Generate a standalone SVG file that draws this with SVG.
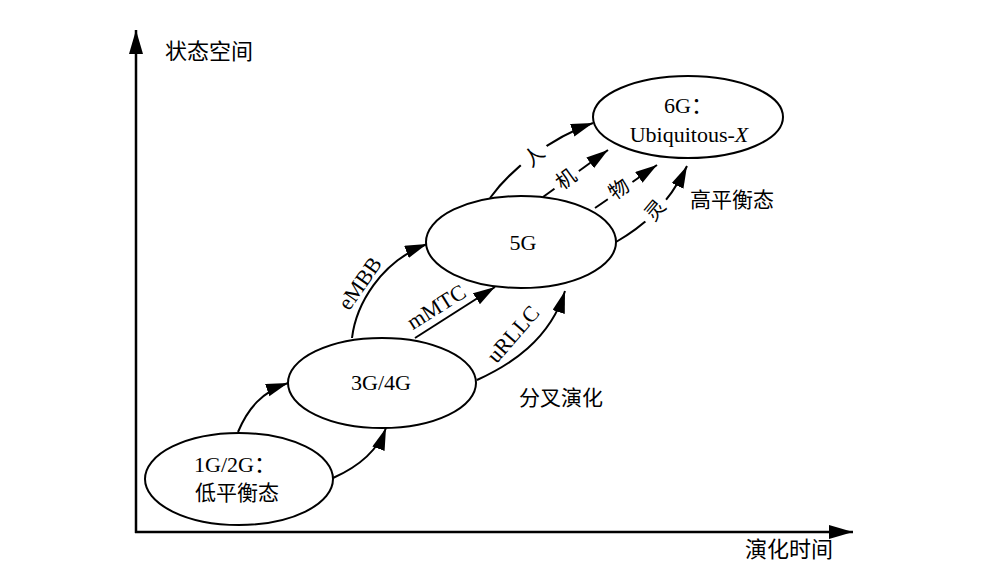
<svg xmlns="http://www.w3.org/2000/svg" width="988" height="580" viewBox="0 0 988 580">
<defs>
<style>
.node{fill:#fff;stroke:#000;stroke-width:2}
.edge{fill:none;stroke:#000;stroke-width:2}
.axis{fill:none;stroke:#000;stroke-width:2.5}
.lat{font-family:"Liberation Serif","Noto Sans CJK SC",serif;font-size:22px;fill:#000}
.cjk{font-family:"Liberation Serif","Noto Sans CJK SC",serif;font-size:21px;fill:#000}
.gap{fill:#fff;stroke:none}
</style>
<marker id="arr" markerUnits="userSpaceOnUse" markerWidth="24" markerHeight="15" refX="22" refY="6.5" orient="auto">
<path d="M0,0 L22,6.5 L0,13 Z" fill="#000"/>
</marker>
<marker id="axarr" markerUnits="userSpaceOnUse" markerWidth="26" markerHeight="16" refX="24" refY="7" orient="auto">
<path d="M0,0 L24,7 L0,14 Z" fill="#000"/>
</marker>
</defs>
<rect width="988" height="580" fill="#fff"/>

<g id="axes">
<path class="axis" d="M136,533 L136,30" marker-end="url(#axarr)"/>
<path class="axis" d="M135,532 L853,532" marker-end="url(#axarr)"/>
<text class="cjk" x="165" y="59" style="font-size:22px">状态空间</text>
<text class="cjk" x="745" y="557" style="font-size:22px">演化时间</text>
</g>

<g id="connectors">
<path class="edge" d="M238,432 C248,408 262,392 288,383" marker-end="url(#arr)"/>
<path class="edge" d="M333,478 C360,466 378,450 386,428" marker-end="url(#arr)"/>
<path class="edge" d="M352,338 C356,305 380,262 427,244" marker-end="url(#arr)"/>
<path class="edge" d="M415,338 L495,287" marker-end="url(#arr)"/>
<path class="edge" d="M477,380 C510,365 550,340 565,291" marker-end="url(#arr)"/>
<path class="edge" d="M490,198 C510,170 550,138 593,123" marker-end="url(#arr)"/>
<path class="edge" d="M543,197 L608,150" marker-end="url(#arr)"/>
<path class="edge" d="M595,208 C610,198 635,180 657,165" marker-end="url(#arr)"/>
<path class="edge" d="M616,242 C640,228 667,208 687,166" marker-end="url(#arr)"/>
<g id="label-eMBB" transform="translate(361,284) rotate(-55)"><text class="lat" x="0" y="6" text-anchor="middle">eMBB</text></g>
<g id="label-mMTC" transform="translate(437,308) rotate(-32)"><text class="lat" x="0" y="6" text-anchor="middle">mMTC</text></g>
<g id="label-uRLLC" transform="translate(514,335) rotate(-49)"><text class="lat" x="0" y="6" text-anchor="middle">uRLLC</text></g>
<g id="label-ren" transform="translate(534,156) rotate(-42)"><rect class="gap" x="-16" y="-10" width="32" height="20"/><text class="cjk" x="0" y="7" text-anchor="middle" style="font-size:20px">人</text></g>
<g id="label-ji" transform="translate(566,179) rotate(-36)"><rect class="gap" x="-15" y="-10" width="30" height="20"/><text class="cjk" x="0" y="7" text-anchor="middle" style="font-size:20px">机</text></g>
<g id="label-wu" transform="translate(619,189) rotate(-35)"><rect class="gap" x="-15" y="-10" width="30" height="20"/><text class="cjk" x="0" y="7" text-anchor="middle" style="font-size:20px">物</text></g>
<g id="label-ling" transform="translate(655,210) rotate(-50)"><rect class="gap" x="-15" y="-10" width="30" height="20"/><text class="cjk" x="0" y="7" text-anchor="middle" style="font-size:20px">灵</text></g>
</g>

<g id="node-1g2g">
<ellipse class="node" cx="239" cy="479" rx="94" ry="46"/>
<text class="lat" x="194" y="472">1G/2G：</text>
<text class="cjk" x="195" y="500">低平衡态</text>
</g>
<g id="node-3g4g">
<ellipse class="node" cx="382" cy="383" rx="94" ry="45"/>
<text class="lat" x="381" y="390" text-anchor="middle">3G/4G</text>
</g>
<g id="node-5g">
<ellipse class="node" cx="521" cy="242" rx="95" ry="46"/>
<text class="lat" x="523" y="250" text-anchor="middle">5G</text>
</g>
<g id="node-6g">
<ellipse class="node" cx="688" cy="117" rx="95" ry="41"/>
<text class="lat" x="664" y="113">6G：</text>
<text class="lat" x="689" y="142" text-anchor="middle">Ubiquitous-<tspan font-style="italic">X</tspan></text>
</g>

<g id="annotations">
<text class="cjk" x="519" y="405">分叉演化</text>
<text class="cjk" x="690" y="207">高平衡态</text>
</g>
</svg>
